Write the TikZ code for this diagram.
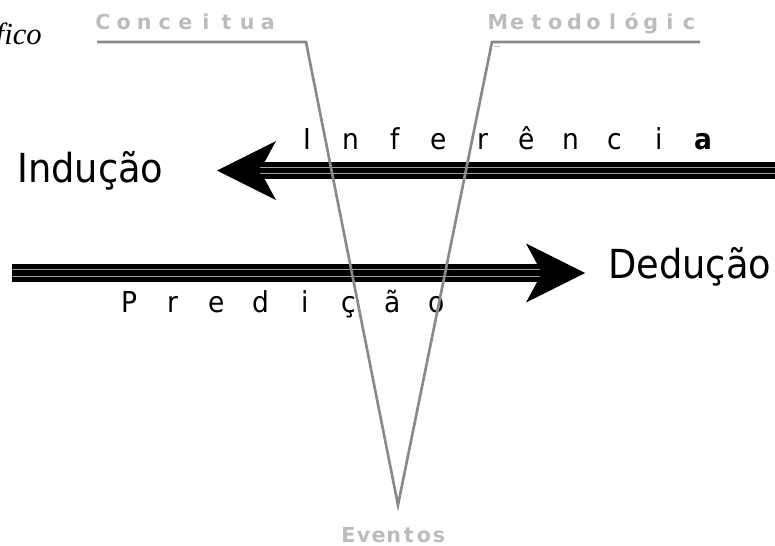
\documentclass[tikz,border=0pt]{standalone}
\usepackage{fontspec}
\setmainfont{DejaVu Sans}[FakeStretch=0.92]
\newfontfamily\labelfont{DejaVu Sans}
\newfontfamily\titlefont{Liberation Serif}
\usepackage{tikz}
\usetikzlibrary{arrows.meta,positioning}
\usepackage{xcolor}
\definecolor{vgray}{HTML}{8A8A8A}
\definecolor{lblgray}{HTML}{BCBCBC}
\definecolor{sepgray}{HTML}{A0A0A0}

\begin{document}
\begin{tikzpicture}[x=0.75pt,y=-0.75pt,
  bigword/.style={inner sep=0pt,anchor=base west,font=\fontsize{30}{36}\selectfont},
  spaced/.style={inner sep=0pt,anchor=base,font=\fontsize{21.6}{26}\selectfont},
  graylbl/.style={inner sep=0pt,anchor=base,text=lblgray,font=\labelfont\bfseries\fontsize{15.5}{18}\selectfont},
  band/.style={line width=13.4pt,-{Stealth[length=44.25pt,width=44.25pt,inset=12pt,line width=0pt]}},
  sep/.style={line width=0.8pt,sepgray},
  vline/.style={line width=2pt,vgray,line join=miter}]
  \useasboundingbox (0,0) rectangle (775,546);
  \node[anchor=base east,inner sep=0pt,font=\titlefont\itshape\fontsize{23}{27}\selectfont] (titulo) at (42,45) {fico};

  \coordinate (infR) at (775,170.5);
  \coordinate (infTip) at (217,170.5);
  \coordinate (infNotch) at (260,170.5);
  \draw[band] (infR) -- (infTip);
  \draw[sep] ([yshift=2.55pt]infR) -- ([yshift=2.55pt]infNotch);
  \draw[sep] ([yshift=-2.55pt]infR) -- ([yshift=-2.55pt]infNotch);
  \node[bigword] (inducao) at (17,182) {Indução};
  \foreach \ch [count=\k from 0] in {I,n,f,e,r,ê,n,c,i,\textbf{a}}
    \node[spaced] (inf\k) at (307+44*\k,149) {\ch};

  \coordinate (preL) at (12,273);
  \coordinate (preTip) at (585,273);
  \coordinate (preNotch) at (540,273);
  \draw[band] (preL) -- (preTip);
  \draw[sep] ([yshift=2.55pt]preL) -- ([yshift=2.55pt]preNotch);
  \draw[sep] ([yshift=-2.55pt]preL) -- ([yshift=-2.55pt]preNotch);
  \node[bigword] (deducao) at (608,278) {Dedução};
  \foreach \ch [count=\k from 0] in {P,r,e,d,i,ç,ã,o}
    \node[spaced] (pre\k) at (129+44*\k,312) {\ch};

  \coordinate (cL) at (97,42);
  \coordinate (cK) at (306,42);
  \coordinate (apex) at (398,505);
  \coordinate (mK) at (492,42);
  \coordinate (mR) at (700,42);
  \draw[vline] (cL) -- (cK) -- (apex) -- (mK) -- (mR);
  \coordinate (tickA) at (494,46.5);
  \coordinate (tickB) at (500,46.5);
  \draw[lblgray,line width=0.8pt] (tickA) -- (tickB);

  \foreach \ch [count=\k from 0] in {C,o,n,c,e,i,t,u,a}
    \node[graylbl] (con\k) at (103+20.6*\k,30) {\ch};
  \foreach \ch [count=\k from 0] in {M,e,t,o,d,o,l,ó,g,i,c}
    \node[graylbl] (met\k) at (498+19.1*\k,30) {\ch};
  \foreach \ch [count=\k from 0] in {E,v,e,n,t,o,s}
    \node[graylbl] (ev\k) at (348.5+15.1*\k,542) {\ch};
\end{tikzpicture}
\end{document}
